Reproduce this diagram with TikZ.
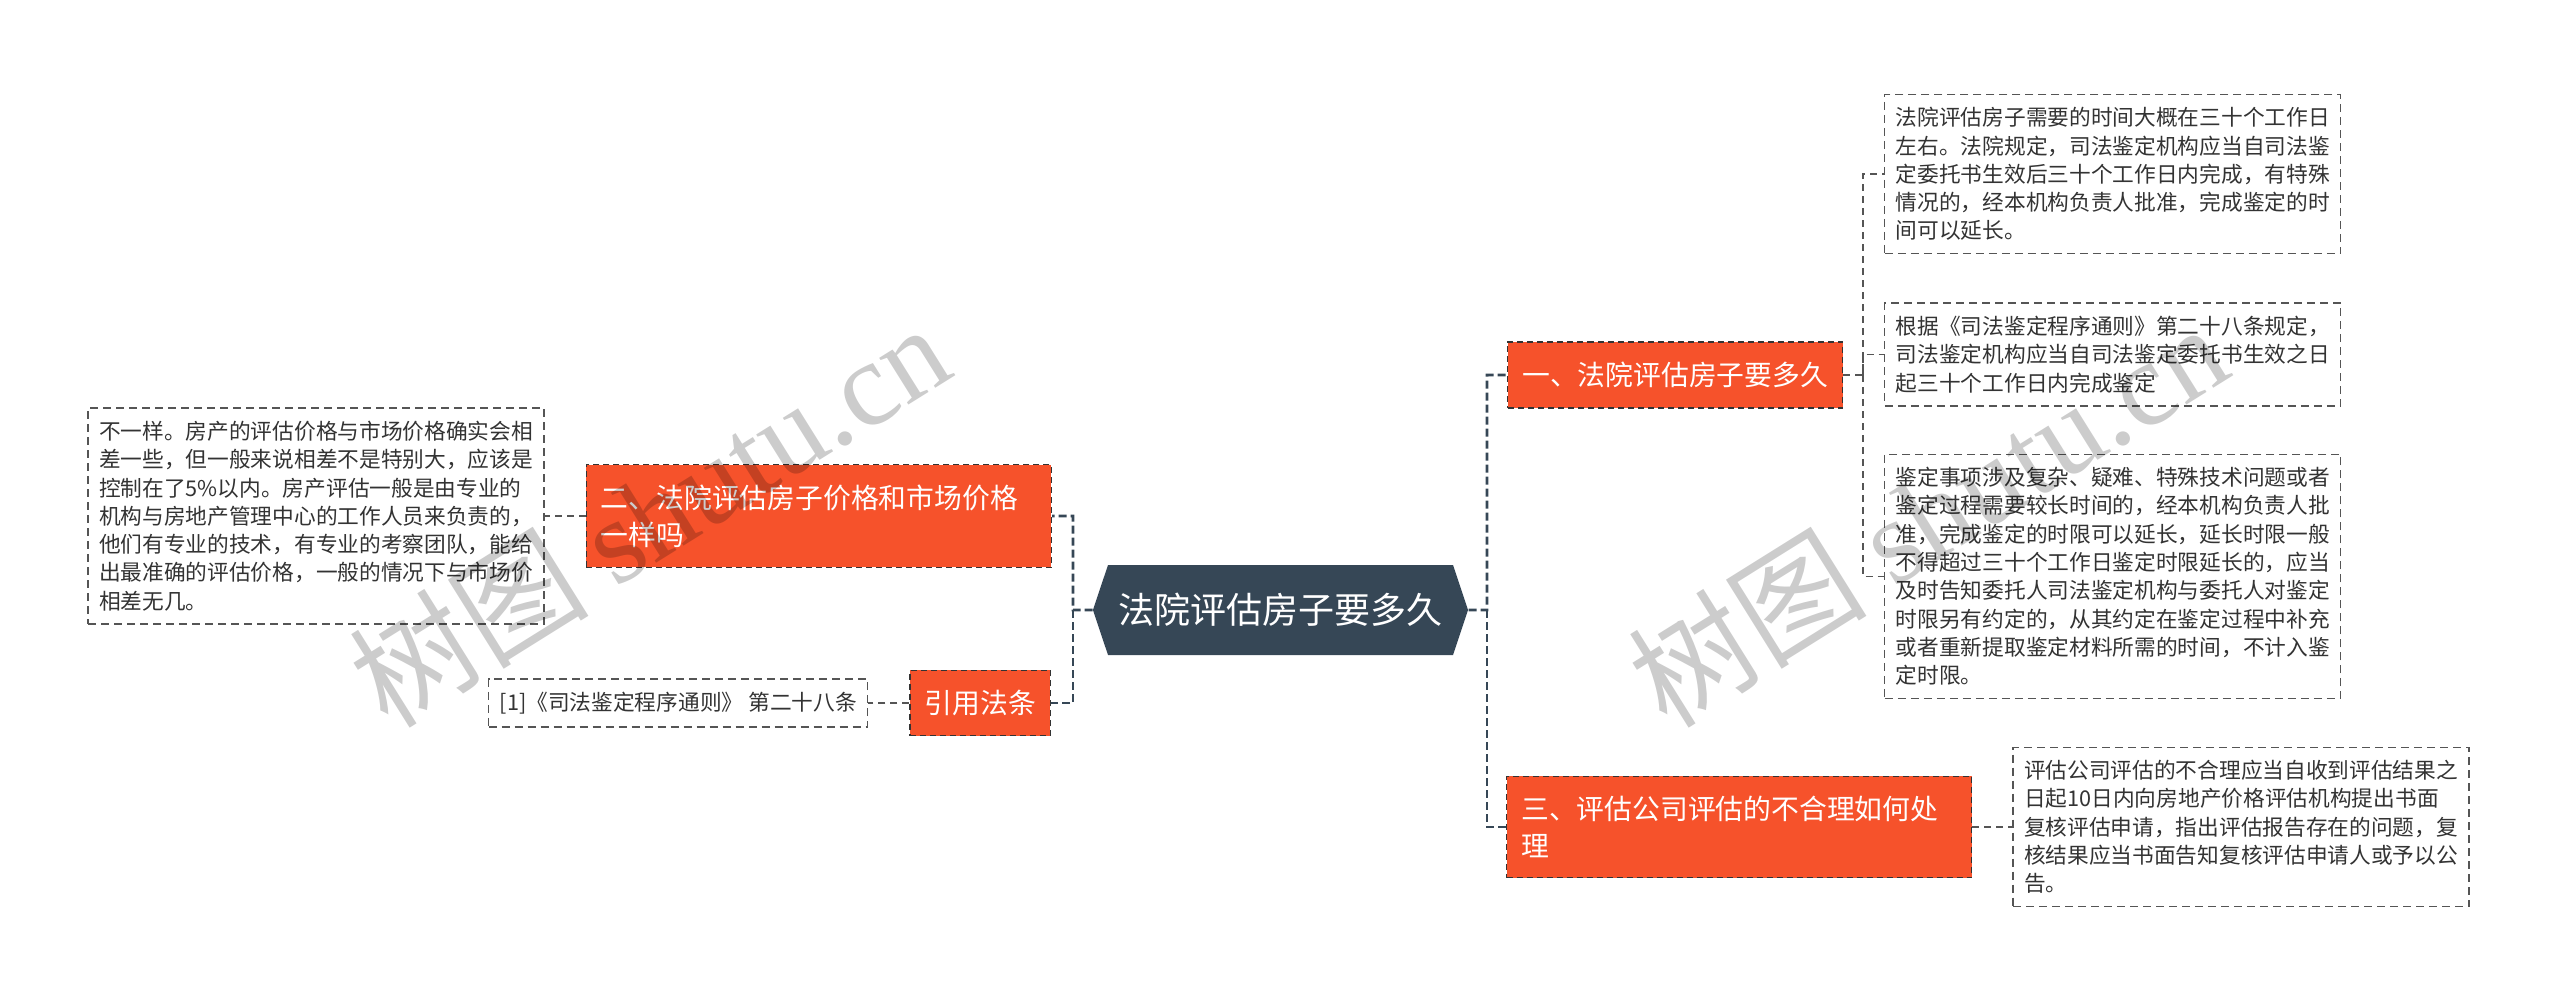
\documentclass[tikz,border=0pt]{standalone}
\usepackage{fontspec}
\setmainfont{Noto Sans CJK SC}
\newfontfamily\marklatin{Liberation Serif}
\usepackage{tikz}
\usepackage{xcolor}
\usetikzlibrary{positioning,shapes.symbols}
\definecolor{HubSlate}{RGB}{54,71,86}
\definecolor{TopicRed}{RGB}{246,82,43}
\definecolor{NoteInk}{RGB}{51,51,51}
\definecolor{NoteEdge}{RGB}{85,85,85}

\begin{document}
\begin{tikzpicture}[x=0.5pt, y=-0.5pt, node distance=20.5pt,
  hubnode/.style={signal, signal to=east and west, signal pointer angle=143, fill=HubSlate, text=white,
    font=\fontsize{18pt}{22pt}\selectfont, minimum height=45pt, inner xsep=5.25pt, inner ysep=0pt},
  topicbox/.style={draw=NoteInk, dash pattern=on 3pt off 2pt, line width=0.6pt, fill=TopicRed, text=white,
    font=\fontsize{13.9pt}{18.5pt}\selectfont, align=left, inner xsep=7.3pt, inner ysep=10pt, minimum height=32pt},
  notebox/.style={draw=NoteEdge, dash pattern=on 4pt off 2.5pt, line width=0.6pt, text=NoteInk,
    font=\fontsize{10.85pt}{14.15pt}\selectfont, align=left, inner xsep=5.5pt, inner ysep=6.5pt},
  trunkline/.style={draw=HubSlate, line width=1.3pt, dash pattern=on 4pt off 2pt},
  noteline/.style={draw=NoteEdge, line width=0.7pt, dash pattern=on 3.5pt off 2.5pt},
  watermark/.style={text=black, text opacity=0.2, font=\fontsize{60pt}{60pt}\selectfont, rotate=32}]
\useasboundingbox (0,0) rectangle (2560,1001);

% centre and main topics
\node[hubnode] (hub) at (1280.5,610) {法院评估房子要多久};
\node[topicbox, anchor=west] (n1) at (1507,375) {一、法院评估房子要多久};
\node[topicbox, anchor=west, text width=218pt] (n3) at (1506,827) {三、评估公司评估的不合理如何处\\理};
\node[topicbox, anchor=east, text width=218pt] (n2) at (1052,516) {二、法院评估房子价格和市场价格\\一样吗};
\node[topicbox, anchor=east] (cite) at (1051,703) {引用法条};

% notes
\node[notebox, right=of n1, yshift=10.25pt] (leaf2) {根据《司法鉴定程序通则》第二十八条规定，\\司法鉴定机构应当自司法鉴定委托书生效之日\\起三十个工作日内完成鉴定};
\node[notebox, above=24pt of leaf2] (leaf1) {法院评估房子需要的时间大概在三十个工作日\\左右。法院规定，司法鉴定机构应当自司法鉴\\定委托书生效后三十个工作日内完成，有特殊\\情况的，经本机构负责人批准，完成鉴定的时\\间可以延长。};
\node[notebox, below=23.5pt of leaf2] (leaf3) {鉴定事项涉及复杂、疑难、特殊技术问题或者\\鉴定过程需要较长时间的，经本机构负责人批\\准，完成鉴定的时限可以延长，延长时限一般\\不得超过三十个工作日鉴定时限延长的，应当\\及时告知委托人司法鉴定机构与委托人对鉴定\\时限另有约定的，从其约定在鉴定过程中补充\\或者重新提取鉴定材料所需的时间，不计入鉴\\定时限。};
\node[notebox, right=20pt of n3] (leaf4) {评估公司评估的不合理应当自收到评估结果之\\日起10日内向房地产价格评估机构提出书面\\复核评估申请，指出评估报告存在的问题，复\\核结果应当书面告知复核评估申请人或予以公\\告。};
\node[notebox, left=of n2] (leftleaf) {不一样。房产的评估价格与市场价格确实会相\\差一些，但一般来说相差不是特别大，应该是\\控制在了5\%以内。房产评估一般是由专业的\\机构与房地产管理中心的工作人员来负责的，\\他们有专业的技术，有专业的考察团队，能给\\出最准确的评估价格，一般的情况下与市场价\\相差无几。};
\node[notebox, left=of cite] (citeleaf) {[1]《司法鉴定程序通则》 第二十八条};

% forks
\coordinate (rtrunk) at (1487,610);
\coordinate (ltrunk) at (1073,610);
\coordinate (n1fork) at (1863,375);

\draw[trunkline] (hub) -- (rtrunk) |- (n1);
\draw[trunkline] (rtrunk) |- (n3);
\draw[trunkline] (hub) -- (ltrunk) |- (n2);
\draw[trunkline] (ltrunk) |- (cite);
\draw[noteline] (n1) -- (n1fork) |- (leaf1);
\draw[noteline] (n1fork) |- (leaf2);
\draw[noteline] (n1fork) |- (leaf3);
\draw[noteline] (n3) -- (leaf4);
\draw[noteline] (n2) -- (leftleaf);
\draw[noteline] (cite) -- (citeleaf);

% watermarks
\node[watermark] (markleft) at (649,514) {树图 {\marklatin shutu.cn}};
\node[watermark] (markright) at (1927,514) {树图 {\marklatin shutu.cn}};
\end{tikzpicture}
\end{document}
